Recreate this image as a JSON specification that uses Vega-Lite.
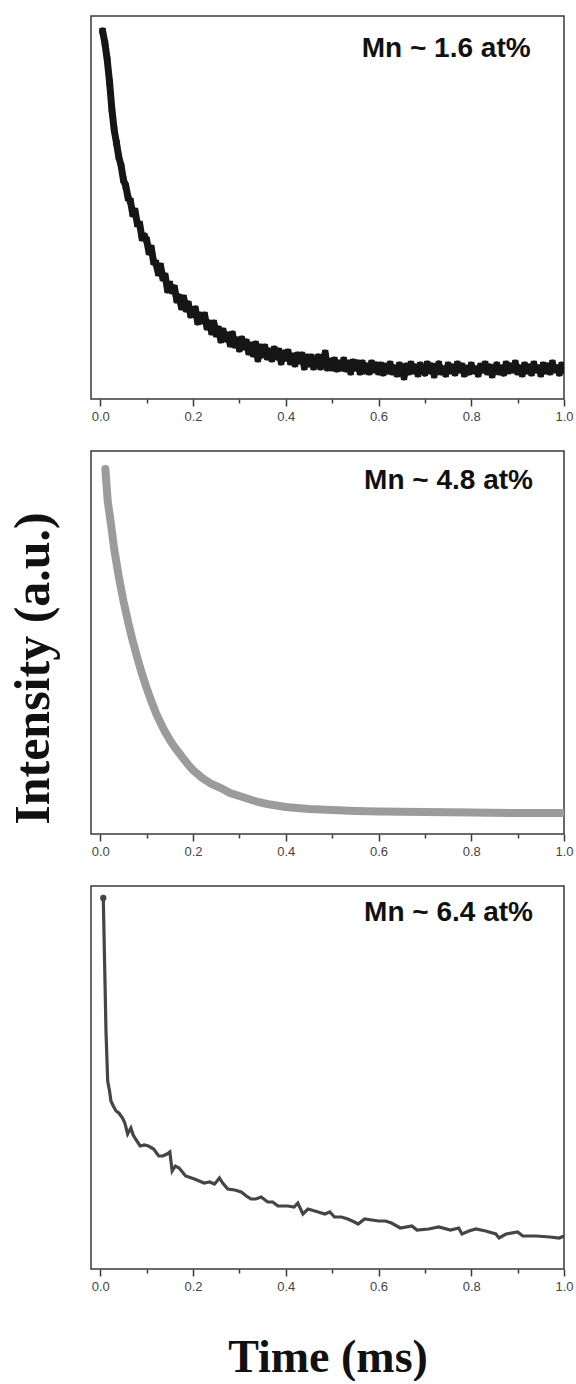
{
  "$schema": "https://vega.github.io/schema/vega-lite/v6.json",
  "padding": {"left": 7, "top": 15, "right": 0, "bottom": 0},
  "background": "white",
  "bounds": "flush",
  "spacing": 52,
  "config": {
    "view": {"stroke": "#3a3a3a", "strokeWidth": 1.5},
    "axisX": {
      "values": [0, 0.1, 0.2, 0.3, 0.4, 0.5, 0.6, 0.7, 0.8, 0.9, 1.0],
      "labelExpr": "round(datum.value*10) % 2 == 0 ? format(datum.value, '.1f') : ''",
      "tickSize": {"condition": {"test": "round(datum.value*10) % 2 == 0", "value": 7}, "value": 4},
      "tickColor": "#3a3a3a",
      "tickWidth": 1.5,
      "domain": false,
      "grid": false,
      "labelFlush": false,
      "labelOverlap": false,
      "labelFont": "Liberation Sans",
      "labelFontSize": 13,
      "labelColor": "#444444",
      "labelPadding": 4
    }
  },
  "datasets": {
    "p1": [
      {"t":0.005,"I":368},{"t":0.010,"I":356},{"t":0.015,"I":339},{"t":0.020,"I":317},{"t":0.025,"I":290},{"t":0.030,"I":269},{"t":0.035,"I":256},{"t":0.040,"I":242},{"t":0.045,"I":233},{"t":0.050,"I":219},
      {"t":0.055,"I":213},{"t":0.060,"I":201},{"t":0.065,"I":198},{"t":0.070,"I":185},{"t":0.075,"I":188},{"t":0.080,"I":175},{"t":0.085,"I":175},{"t":0.090,"I":161},{"t":0.095,"I":163},{"t":0.100,"I":159},
      {"t":0.105,"I":147},{"t":0.110,"I":151},{"t":0.115,"I":137},{"t":0.120,"I":136},{"t":0.125,"I":126},{"t":0.130,"I":133},{"t":0.135,"I":121},{"t":0.140,"I":123},{"t":0.145,"I":109},{"t":0.150,"I":115},
      {"t":0.155,"I":108},{"t":0.160,"I":111},{"t":0.165,"I":99},{"t":0.170,"I":102},{"t":0.175,"I":92},{"t":0.180,"I":101},{"t":0.185,"I":90},{"t":0.190,"I":95},{"t":0.195,"I":84},{"t":0.200,"I":89},
      {"t":0.205,"I":90},{"t":0.210,"I":77},{"t":0.215,"I":84},{"t":0.220,"I":78},{"t":0.225,"I":84},{"t":0.230,"I":72},{"t":0.235,"I":76},{"t":0.240,"I":67},{"t":0.245,"I":76},{"t":0.250,"I":65},
      {"t":0.255,"I":70},{"t":0.260,"I":59},{"t":0.265,"I":68},{"t":0.270,"I":60},{"t":0.275,"I":64},{"t":0.280,"I":55},{"t":0.285,"I":65},{"t":0.290,"I":54},{"t":0.295,"I":59},{"t":0.300,"I":50},
      {"t":0.305,"I":60},{"t":0.310,"I":52},{"t":0.315,"I":57},{"t":0.320,"I":47},{"t":0.325,"I":54},{"t":0.330,"I":45},{"t":0.335,"I":55},{"t":0.340,"I":40},{"t":0.345,"I":52},{"t":0.350,"I":44},
      {"t":0.355,"I":52},{"t":0.360,"I":42},{"t":0.365,"I":48},{"t":0.370,"I":40},{"t":0.375,"I":50},{"t":0.380,"I":42},{"t":0.385,"I":48},{"t":0.390,"I":37},{"t":0.395,"I":46},{"t":0.400,"I":41},
      {"t":0.405,"I":47},{"t":0.410,"I":37},{"t":0.415,"I":43},{"t":0.420,"I":35},{"t":0.425,"I":44},{"t":0.430,"I":38},{"t":0.435,"I":44},{"t":0.440,"I":32},{"t":0.445,"I":42},{"t":0.450,"I":35},
      {"t":0.455,"I":42},{"t":0.460,"I":32},{"t":0.465,"I":39},{"t":0.470,"I":42},{"t":0.475,"I":32},{"t":0.480,"I":39},{"t":0.485,"I":46},{"t":0.490,"I":31},{"t":0.495,"I":38},{"t":0.500,"I":31},
      {"t":0.505,"I":39},{"t":0.510,"I":30},{"t":0.515,"I":36},{"t":0.520,"I":31},{"t":0.525,"I":39},{"t":0.530,"I":30},{"t":0.535,"I":36},{"t":0.540,"I":27},{"t":0.545,"I":37},{"t":0.550,"I":31},
      {"t":0.555,"I":36},{"t":0.560,"I":27},{"t":0.565,"I":36},{"t":0.570,"I":28},{"t":0.575,"I":33},{"t":0.580,"I":27},{"t":0.585,"I":36},{"t":0.590,"I":29},{"t":0.595,"I":34},{"t":0.600,"I":27},
      {"t":0.605,"I":34},{"t":0.610,"I":26},{"t":0.615,"I":33},{"t":0.620,"I":28},{"t":0.625,"I":35},{"t":0.630,"I":27},{"t":0.635,"I":31},{"t":0.640,"I":25},{"t":0.645,"I":34},{"t":0.650,"I":29},
      {"t":0.655,"I":22},{"t":0.660,"I":33},{"t":0.665,"I":27},{"t":0.670,"I":35},{"t":0.675,"I":28},{"t":0.680,"I":32},{"t":0.685,"I":25},{"t":0.690,"I":34},{"t":0.695,"I":29},{"t":0.700,"I":26},
      {"t":0.705,"I":35},{"t":0.710,"I":28},{"t":0.715,"I":33},{"t":0.720,"I":24},{"t":0.725,"I":31},{"t":0.730,"I":35},{"t":0.735,"I":27},{"t":0.740,"I":30},{"t":0.745,"I":25},{"t":0.750,"I":34},
      {"t":0.755,"I":28},{"t":0.760,"I":32},{"t":0.765,"I":26},{"t":0.770,"I":35},{"t":0.775,"I":29},{"t":0.780,"I":33},{"t":0.785,"I":25},{"t":0.790,"I":31},{"t":0.795,"I":27},{"t":0.800,"I":34},
      {"t":0.805,"I":28},{"t":0.810,"I":30},{"t":0.815,"I":25},{"t":0.820,"I":33},{"t":0.825,"I":29},{"t":0.830,"I":35},{"t":0.835,"I":27},{"t":0.840,"I":32},{"t":0.845,"I":24},{"t":0.850,"I":30},
      {"t":0.855,"I":34},{"t":0.860,"I":27},{"t":0.865,"I":31},{"t":0.870,"I":26},{"t":0.875,"I":35},{"t":0.880,"I":28},{"t":0.885,"I":33},{"t":0.890,"I":29},{"t":0.895,"I":36},{"t":0.900,"I":27},
      {"t":0.905,"I":31},{"t":0.910,"I":25},{"t":0.915,"I":34},{"t":0.920,"I":28},{"t":0.925,"I":32},{"t":0.930,"I":26},{"t":0.935,"I":35},{"t":0.940,"I":29},{"t":0.945,"I":31},{"t":0.950,"I":25},
      {"t":0.955,"I":34},{"t":0.960,"I":28},{"t":0.965,"I":33},{"t":0.970,"I":27},{"t":0.975,"I":36},{"t":0.980,"I":29},{"t":0.985,"I":31},{"t":0.990,"I":26},{"t":0.995,"I":34},{"t":1.000,"I":29}
    ],
    "p2": [
      {"t":0.011,"I":365},{"t":0.016,"I":333},{"t":0.023,"I":310},{"t":0.03,"I":285},{"t":0.04,"I":257},{"t":0.05,"I":233},{"t":0.06,"I":212},{"t":0.07,"I":193},{"t":0.08,"I":176},{"t":0.09,"I":160},
      {"t":0.10,"I":146},{"t":0.11,"I":133},{"t":0.12,"I":121},{"t":0.13,"I":111},{"t":0.14,"I":102},{"t":0.15,"I":94},{"t":0.16,"I":87},{"t":0.17,"I":81},{"t":0.18,"I":75},{"t":0.19,"I":69},
      {"t":0.20,"I":64},{"t":0.22,"I":56},{"t":0.24,"I":50},{"t":0.26,"I":46},{"t":0.28,"I":41},{"t":0.30,"I":38},{"t":0.32,"I":35},{"t":0.34,"I":32},{"t":0.36,"I":30},{"t":0.38,"I":28.5},
      {"t":0.40,"I":27},{"t":0.45,"I":25},{"t":0.50,"I":24},{"t":0.55,"I":23},{"t":0.60,"I":22.5},{"t":0.70,"I":22},{"t":0.80,"I":21.5},{"t":0.90,"I":21},{"t":1.00,"I":21}
    ],
    "p3": [
      {"t":0.0065,"I":371},{"t":0.0087,"I":321},{"t":0.0123,"I":238},{"t":0.016,"I":188},{"t":0.02,"I":178},{"t":0.023,"I":168},{"t":0.028,"I":163},{"t":0.034,"I":158},{"t":0.04,"I":156},{"t":0.048,"I":151},
      {"t":0.053,"I":146},{"t":0.059,"I":135},{"t":0.066,"I":141},{"t":0.071,"I":134},{"t":0.076,"I":130},{"t":0.086,"I":123},{"t":0.095,"I":124},{"t":0.104,"I":123},{"t":0.115,"I":120},{"t":0.126,"I":113},
      {"t":0.135,"I":113},{"t":0.144,"I":115},{"t":0.15,"I":117},{"t":0.155,"I":98},{"t":0.162,"I":103},{"t":0.17,"I":101},{"t":0.184,"I":93},{"t":0.203,"I":90},{"t":0.224,"I":86},{"t":0.236,"I":87},
      {"t":0.246,"I":85},{"t":0.252,"I":88},{"t":0.257,"I":91},{"t":0.264,"I":86},{"t":0.275,"I":80},{"t":0.29,"I":79},{"t":0.304,"I":77},{"t":0.315,"I":73},{"t":0.325,"I":70},{"t":0.335,"I":70},
      {"t":0.347,"I":72},{"t":0.361,"I":67},{"t":0.372,"I":67},{"t":0.383,"I":63},{"t":0.404,"I":63},{"t":0.418,"I":62},{"t":0.426,"I":66},{"t":0.437,"I":55},{"t":0.448,"I":60},{"t":0.47,"I":57},
      {"t":0.484,"I":55},{"t":0.495,"I":57},{"t":0.505,"I":52},{"t":0.52,"I":52},{"t":0.534,"I":50},{"t":0.548,"I":47},{"t":0.556,"I":45},{"t":0.57,"I":50},{"t":0.6,"I":48},{"t":0.615,"I":48},
      {"t":0.628,"I":46},{"t":0.647,"I":41},{"t":0.672,"I":43},{"t":0.683,"I":39},{"t":0.708,"I":40},{"t":0.73,"I":42},{"t":0.755,"I":39},{"t":0.773,"I":41},{"t":0.78,"I":35},{"t":0.795,"I":38},
      {"t":0.81,"I":40},{"t":0.831,"I":38},{"t":0.853,"I":35},{"t":0.86,"I":31},{"t":0.875,"I":35},{"t":0.9,"I":37},{"t":0.911,"I":33},{"t":0.94,"I":33},{"t":0.969,"I":32},{"t":0.99,"I":31},{"t":1.0,"I":33}
    ],
    "labels": [
      {"panel": "p1", "label": "Mn ~ 1.6 at%"},
      {"panel": "p2", "label": "Mn ~ 4.8 at%"},
      {"panel": "p3", "label": "Mn ~ 6.4 at%"}
    ]
  },
  "vconcat": [
    {
      "width": 473,
      "height": 383,
      "layer": [
        {
          "data": {"name": "p1"},
          "mark": {"type": "line", "color": "#161616", "strokeWidth": 7, "strokeJoin": "round", "strokeCap": "round", "clip": true},
          "encoding": {
            "x": {"field": "t", "type": "quantitative", "scale": {"domain": [-0.02, 1.0], "nice": false, "zero": false}, "axis": {"title": null}},
            "y": {"field": "I", "type": "quantitative", "scale": {"domain": [0, 383], "nice": false}, "axis": null}
          }
        },
        {
          "data": {"name": "p1"},
          "mark": {"type": "point", "shape": "square", "filled": true, "color": "#161616", "size": 40, "opacity": 1, "clip": true},
          "encoding": {
            "x": {"field": "t", "type": "quantitative"},
            "y": {"field": "I", "type": "quantitative"}
          }
        },
        {
          "data": {"name": "labels"},
          "transform": [{"filter": "datum.panel == 'p1'"}],
          "mark": {"type": "text", "align": "right", "baseline": "alphabetic", "font": "Liberation Sans", "fontWeight": "bold", "fontSize": 28, "color": "#111111"},
          "encoding": {
            "x": {"datum": 0.928, "type": "quantitative"},
            "y": {"datum": 342, "type": "quantitative"},
            "text": {"field": "label"}
          }
        }
      ]
    },
    {
      "width": 473,
      "height": 383,
      "layer": [
        {
          "data": {"name": "p2"},
          "mark": {"type": "line", "color": "#9b9b9b", "strokeWidth": 8, "strokeCap": "round", "clip": true},
          "encoding": {
            "x": {"field": "t", "type": "quantitative", "scale": {"domain": [-0.02, 1.0], "nice": false, "zero": false}, "axis": {"title": null}},
            "y": {"field": "I", "type": "quantitative", "scale": {"domain": [0, 383], "nice": false},
              "axis": {"title": "Intensity (a.u.)", "labels": false, "ticks": false, "domain": false, "grid": false, "minExtent": 0, "maxExtent": 0,
                "titlePadding": 33, "titleY": 217, "titleFont": "Liberation Serif", "titleFontSize": 50, "titleFontWeight": "bold", "titleColor": "#111111"}}
          }
        },
        {
          "data": {"name": "labels"},
          "transform": [{"filter": "datum.panel == 'p2'"}],
          "mark": {"type": "text", "align": "right", "baseline": "alphabetic", "font": "Liberation Sans", "fontWeight": "bold", "fontSize": 28, "color": "#111111"},
          "encoding": {
            "x": {"datum": 0.933, "type": "quantitative"},
            "y": {"datum": 345, "type": "quantitative"},
            "text": {"field": "label"}
          }
        }
      ]
    },
    {
      "width": 473,
      "height": 383,
      "layer": [
        {
          "data": {"name": "p3"},
          "mark": {"type": "line", "color": "#454545", "strokeWidth": 3.2, "clip": true},
          "encoding": {
            "x": {"field": "t", "type": "quantitative", "scale": {"domain": [-0.02, 1.0], "nice": false, "zero": false},
              "axis": {"title": "Time (ms)", "titleFont": "Liberation Serif", "titleFontSize": 46, "titleFontWeight": "bold", "titleColor": "#111111", "titlePadding": 42}},
            "y": {"field": "I", "type": "quantitative", "scale": {"domain": [0, 383], "nice": false}, "axis": null}
          }
        },
        {
          "data": {"name": "p3"},
          "transform": [{"filter": "datum.t < 0.007"}],
          "mark": {"type": "circle", "color": "#454545", "size": 40, "opacity": 1},
          "encoding": {
            "x": {"field": "t", "type": "quantitative"},
            "y": {"field": "I", "type": "quantitative"}
          }
        },
        {
          "data": {"name": "labels"},
          "transform": [{"filter": "datum.panel == 'p3'"}],
          "mark": {"type": "text", "align": "right", "baseline": "alphabetic", "font": "Liberation Sans", "fontWeight": "bold", "fontSize": 28, "color": "#111111"},
          "encoding": {
            "x": {"datum": 0.933, "type": "quantitative"},
            "y": {"datum": 348, "type": "quantitative"},
            "text": {"field": "label"}
          }
        }
      ]
    }
  ]
}
